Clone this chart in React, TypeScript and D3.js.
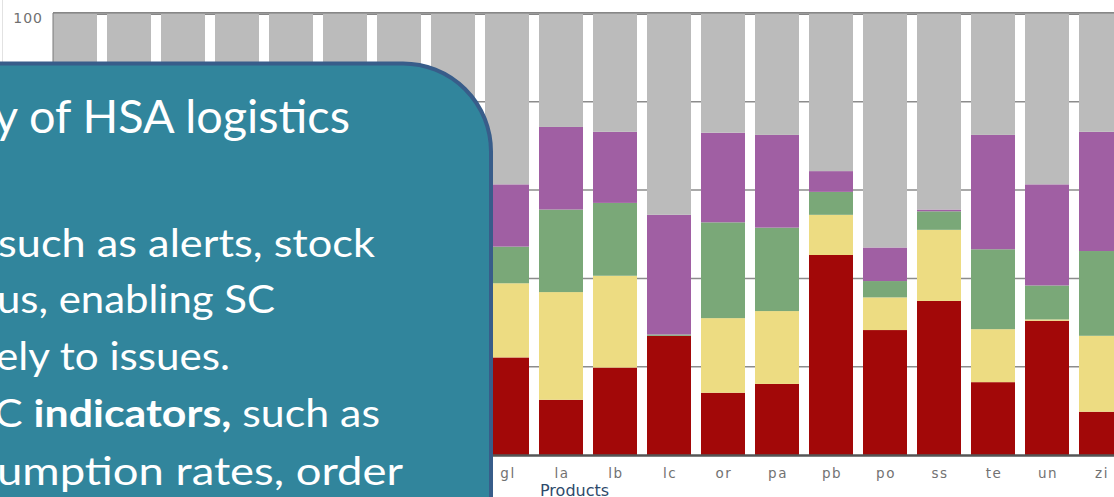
import React from 'react';
import * as d3 from 'd3';

// ---- Chart data (percent of facilities per stock status, stacked) ----
const categories = ['am', 'an', 'ar', 'ca', 'co', 'de', 'di', 'fa', 'gl', 'la', 'lb', 'lc', 'or', 'pa', 'pb', 'po', 'ss', 'te', 'un', 'zi'];
const redValues = [20, 25, 18, 30, 15, 22, 28, 16, 22.1, 12.5, 19.8, 27.0, 14.1, 16.1, 45.3, 28.3, 34.9, 16.5, 30.4, 9.8];
const yellowValues = [15, 10, 20, 12, 18, 14, 10, 22, 16.8, 24.4, 20.8, 0, 16.9, 16.5, 9.1, 7.4, 16.1, 12.0, 0.3, 17.2];
const greenValues = [12, 15, 14, 10, 20, 16, 12, 18, 8.3, 18.7, 16.5, 0.3, 21.7, 18.9, 5.2, 3.7, 4.2, 18.1, 7.7, 19.2];
const purpleValues = [20, 18, 22, 16, 20, 19, 25, 17, 14.1, 18.7, 16.1, 27.1, 20.3, 21.0, 4.7, 7.6, 0.4, 25.9, 22.9, 27.0];
const grayValues = [33, 32, 26, 32, 27, 29, 25, 27, 38.7, 25.7, 26.8, 45.6, 27.0, 27.5, 35.7, 53.0, 44.4, 27.5, 38.7, 26.8];
const seriesKeys = ['red', 'yellow', 'green', 'purple', 'gray'];
const seriesColors = ['#A20808', '#EDDC82', '#7AA878', '#A05FA3', '#BBBBBB'];
const yTicks = [0, 20, 40, 60, 80, 100];
const xAxisTitle = 'Products';

// ---- Overlay text box lines ----
const titleLine = 'y of HSA logistics';
const bodyLines: { parts: { t: string; b?: boolean }[] }[] = [
  { parts: [{ t: 'such as alerts, stock' }] },
  { parts: [{ t: 'us, enabling SC' }] },
  { parts: [{ t: 'ely to issues.' }] },
  { parts: [{ t: 'C ' }, { t: 'indicators,', b: true }, { t: ' such as' }] },
  { parts: [{ t: 'umption rates, order' }] },
];
const bodyBaselines = [257, 313, 370, 427, 485];
const bodyStarts = [-2, -3, -4, -6, -3];
const bodyEnds = [375, 275, 230, 380, 403];

export default function App() {
  const W = 1114;
  const H = 497;
  const plotLeft = 53;
  const plotRight = 1114;
  const step = 54;
  const gap = 10;
  const boxRight = 491;
  const boxTop = 63.5;

  const x = d3
    .scaleBand<string>()
    .domain(categories)
    .range([plotLeft, plotLeft + categories.length * step - gap])
    .paddingInner(gap / step)
    .paddingOuter(0)
    .align(0);
  const y = d3.scaleLinear().domain([0, 100]).range([455, 13.5]);

  const table = categories.map((c, i) => ({
    cat: c,
    red: redValues[i],
    yellow: yellowValues[i],
    green: greenValues[i],
    purple: purpleValues[i],
    gray: grayValues[i],
  }));
  const stacked = d3.stack<any>().keys(seriesKeys)(table);

  const font = "'DejaVu Sans', Verdana, sans-serif";
  const boxFont = "Lato, 'Open Sans', sans-serif";

  // labels that the overlay box leaves visible
  const visibleYTicks = yTicks.filter((t) => y(t) + 10 < boxTop);
  const visibleCats = categories.filter((c) => (x(c) as number) + x.bandwidth() / 2 > boxRight + 4);

  return (
    <svg
      width={W}
      height={H}
      style={{ position: 'absolute', left: 0, top: 0, background: '#fff' }}
    >
      <rect x={0} y={0} width={W} height={H} fill="#fff" />
      <line x1={2.5} y1={0} x2={2.5} y2={70} stroke="#e2e2e2" strokeWidth={1} />

      {/* gridlines */}
      {yTicks
        .filter((t) => t > 0)
        .map((t) => (
          <line
            key={'g' + t}
            x1={plotLeft}
            x2={plotRight}
            y1={y(t)}
            y2={y(t)}
            stroke={t === 100 ? '#5f5f5f' : '#8c8c8c'}
            strokeWidth={t === 100 ? 2.5 : 1.5}
          />
        ))}

      {/* bars */}
      {stacked.map((layer, li) => (
        <g key={layer.key} fill={seriesColors[li]}>
          {layer.map((d: any, i: number) => {
            const h = y(d[0]) - y(d[1]);
            if (h <= 0) return null;
            return (
              <rect
                key={i}
                x={x(d.data.cat)}
                y={y(d[1])}
                width={x.bandwidth()}
                height={h}
              />
            );
          })}
        </g>
      ))}

      {/* frame */}
      <line x1={plotLeft} x2={plotRight} y1={13.5} y2={13.5} stroke="#9a9a9a" strokeWidth={1} />
      <line x1={plotLeft} x2={plotLeft} y1={13} y2={456} stroke="#7a7a7a" strokeWidth={1} />
      <line x1={plotLeft} x2={plotRight} y1={455.5} y2={455.5} stroke="#555" strokeWidth={2.5} />

      {/* y tick labels */}
      {visibleYTicks.map((t) => (
        <text
          key={'yt' + t}
          x={43}
          y={y(t) + 9.5}
          textAnchor="end"
          fontFamily={font}
          fontSize={14}
          fill="#707070"
          letterSpacing={1}
        >
          {t}
        </text>
      ))}

      {/* x tick labels */}
      {visibleCats.map((c) => (
        <text
          key={'xt' + c}
          x={(x(c) as number) + x.bandwidth() / 2 + 1}
          y={478}
          textAnchor="middle"
          fontFamily={font}
          fontSize={13.5}
          fill="#727272"
          letterSpacing={1.5}
        >
          {c}
        </text>
      ))}
      <text x={540} y={496} fontFamily={font} fontSize={16} fill="#2E4A6B">
        {xAxisTitle}
      </text>

      {/* overlay box */}
      <rect
        x={-300}
        y={boxTop}
        width={boxRight + 300}
        height={700}
        rx={88}
        ry={88}
        fill="#31859C"
        stroke="#385D8A"
        strokeWidth={4}
      />
      <text
        x={-6}
        y={133}
        fontFamily={boxFont}
        fontSize={46}
        fill="#fff"
        textLength={356}
        lengthAdjust="spacingAndGlyphs"
      >
        {titleLine}
      </text>
      {bodyLines.map((ln, i) => (
        <text
          key={'bl' + i}
          x={bodyStarts[i]}
          y={bodyBaselines[i]}
          fontFamily={boxFont}
          fontSize={38}
          fill="#fff"
          textLength={bodyEnds[i] - bodyStarts[i]}
          lengthAdjust="spacingAndGlyphs"
        >
          {ln.parts.map((p, j) => (
            <tspan key={j} fontWeight={p.b ? 'bold' : 'normal'}>
              {p.t}
            </tspan>
          ))}
        </text>
      ))}
    </svg>
  );
}
